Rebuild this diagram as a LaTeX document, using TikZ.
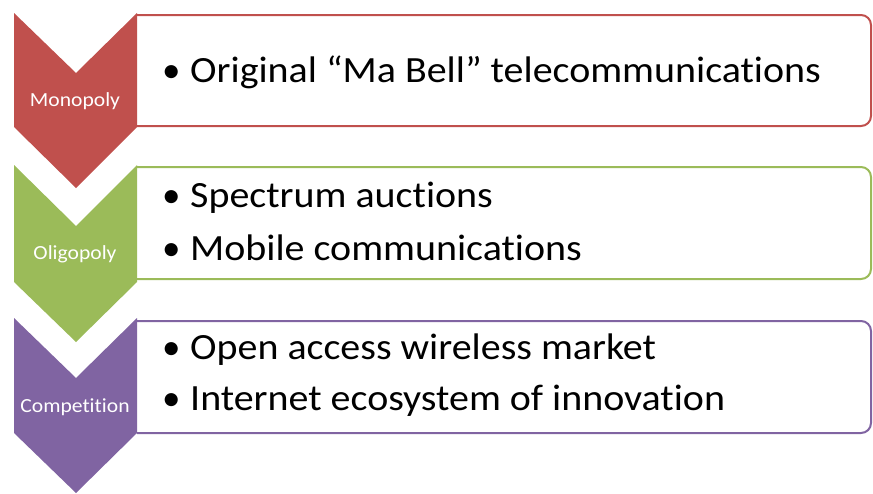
\documentclass[tikz,border=0pt]{standalone}
\usepackage{fontspec}
\setmainfont{Carlito}[Ligatures=NoCommon]
\definecolor{cred}{HTML}{C0504D}
\definecolor{cgreen}{HTML}{9BBB59}
\definecolor{cpurple}{HTML}{8064A2}
\newcommand{\wid}[1]{\scalebox{1.08}[1]{#1}}
\newcommand{\itm}[1]{\makebox[28pt][l]{\textbullet}\wid{#1}}
\begin{document}
\begin{tikzpicture}[x=1pt,y=-1pt,
  boxstyle/.style={draw=#1,line width=2pt,fill=white,rounded corners=10pt},
  chev/.style={fill=#1,draw=none},
  lab/.style={text=white,font=\fontsize{20}{22}\selectfont,inner sep=0pt},
  item/.style={anchor=west,inner sep=0pt,font=\fontsize{37}{42}\selectfont}]
\useasboundingbox (0,0) rectangle (873,493);
% boxes
\filldraw[boxstyle=cred] (137,15) -- (871,15) -- (871,126) -- (137,126);
\filldraw[boxstyle=cgreen] (137,167) -- (871,167) -- (871,279) -- (137,279);
\filldraw[boxstyle=cpurple] (137,321) -- (871,321) -- (871,433) -- (137,433);
% chevrons
\fill[chev=cred] (14,13) -- (76,73) -- (137,13) -- (137,127) -- (76,188) -- (14,127) -- cycle;
\fill[chev=cgreen] (14,165) -- (76,226) -- (137,165) -- (137,282) -- (76,342) -- (14,282) -- cycle;
\fill[chev=cpurple] (14,318) -- (76,378) -- (137,318) -- (137,433) -- (76,493) -- (14,433) -- cycle;
% labels
\node[lab] (l1) at (75,101) {\wid{Monopoly}};
\node[lab] (l2) at (75,254) {\wid{Oligopoly}};
\node[lab] (l3) at (75,407) {\wid{Competition}};
% items
\node[item] (a1) at (162,72) {\itm{Original “Ma Bell” telecommunications}};
\node[item] (b1) at (162,198) {\itm{Spectrum auctions}};
\node[item] (b2) at (162,248) {\itm{Mobile communications}};
\node[item] (c1) at (162,350) {\itm{Open access wireless market}};
\node[item] (c2) at (162,401) {\itm{Internet ecosystem of innovation}};
\end{tikzpicture}
\end{document}
